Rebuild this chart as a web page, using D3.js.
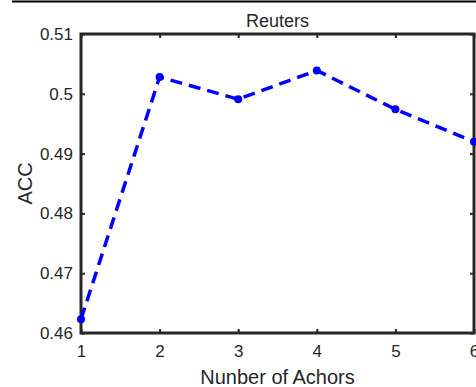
<!DOCTYPE html>
<html>
<head>
<meta charset="utf-8">
<script src="https://cdn.jsdelivr.net/npm/d3@7"></script>
<style>
  body { margin: 0; background: #fff; }
  text { font-family: Helvetica, "Liberation Sans", Arial, sans-serif; fill: #262626; }
</style>
</head>
<body>
<svg id="chart" width="476" height="387"></svg>
<script>
// données
var anchors = [1, 2, 3, 4, 5, 6];
var accValues = [0.4623, 0.5028, 0.4991, 0.5039, 0.4974, 0.4920];
var xTicks = [1, 2, 3, 4, 5, 6];
var yTicks = [0.46, 0.47, 0.48, 0.49, 0.5, 0.51];

var svg = d3.select("#chart");
var plotLeft = 81, plotRight = 474, plotTop = 34, plotBottom = 333;

var x = d3.scaleLinear().domain([1, 6]).range([plotLeft, plotRight]);
var y = d3.scaleLinear().domain([0.46, 0.51]).range([plotBottom, plotTop]);

// ligne du haut (bord de la page)
svg.append("line")
  .attr("x1", 12).attr("x2", 476)
  .attr("y1", 1.5).attr("y2", 1.5)
  .attr("stroke", "#000").attr("stroke-width", 2);

// axes avec graduations vers l'intérieur
svg.append("g")
  .attr("transform", "translate(0," + plotBottom + ")")
  .call(d3.axisBottom(x).tickValues(xTicks).tickSize(-4).tickPadding(12).tickFormat(d3.format("d")))
  .call(function(g) { g.select(".domain").remove(); })
  .selectAll("text").style("font-size", "17px");

svg.append("g")
  .attr("transform", "translate(" + plotLeft + ",0)")
  .call(d3.axisLeft(y).tickValues(yTicks).tickSize(-4).tickPadding(8).tickFormat(function(d) { return String(+d.toFixed(2)); }))
  .call(function(g) { g.select(".domain").remove(); })
  .selectAll("text").style("font-size", "17px");

svg.append("g")
  .attr("transform", "translate(0," + plotTop + ")")
  .call(d3.axisTop(x).tickValues(xTicks).tickSize(-4).tickFormat(""))
  .call(function(g) { g.select(".domain").remove(); });

svg.append("g")
  .attr("transform", "translate(" + plotRight + ",0)")
  .call(d3.axisRight(y).tickValues(yTicks).tickSize(-4).tickFormat(""))
  .call(function(g) { g.select(".domain").remove(); });

svg.selectAll(".tick line").attr("stroke", "#262626").attr("stroke-width", 2);

// cadre
svg.append("rect")
  .attr("x", plotLeft).attr("y", plotTop)
  .attr("width", plotRight - plotLeft).attr("height", plotBottom - plotTop)
  .attr("fill", "none").attr("stroke", "#262626").attr("stroke-width", 3);

// courbe en tirets
var line = d3.line()
  .x(function(d, i) { return x(anchors[i]); })
  .y(function(d) { return y(d); });

svg.append("path")
  .datum(accValues)
  .attr("d", line)
  .attr("fill", "none")
  .attr("stroke", "#0000ff")
  .attr("stroke-width", 3.5)
  .attr("stroke-dasharray", "12,7");

svg.selectAll("circle.pt")
  .data(accValues)
  .enter()
  .append("circle")
  .attr("class", "pt")
  .attr("cx", function(d, i) { return x(anchors[i]); })
  .attr("cy", function(d) { return y(d); })
  .attr("r", 4)
  .attr("fill", "#0000ff");

// titres
svg.append("text")
  .attr("x", (plotLeft + plotRight) / 2).attr("y", 27)
  .attr("text-anchor", "middle")
  .style("font-size", "18px")
  .text("Reuters");

svg.append("text")
  .attr("x", (plotLeft + plotRight) / 2).attr("y", 384)
  .attr("text-anchor", "middle")
  .style("font-size", "20px")
  .text("Nunber of Achors");

svg.append("text")
  .attr("transform", "translate(31.5," + ((plotTop + plotBottom) / 2) + ") rotate(-90)")
  .attr("text-anchor", "middle")
  .style("font-size", "20px")
  .text("ACC");
</script>
</body>
</html>
